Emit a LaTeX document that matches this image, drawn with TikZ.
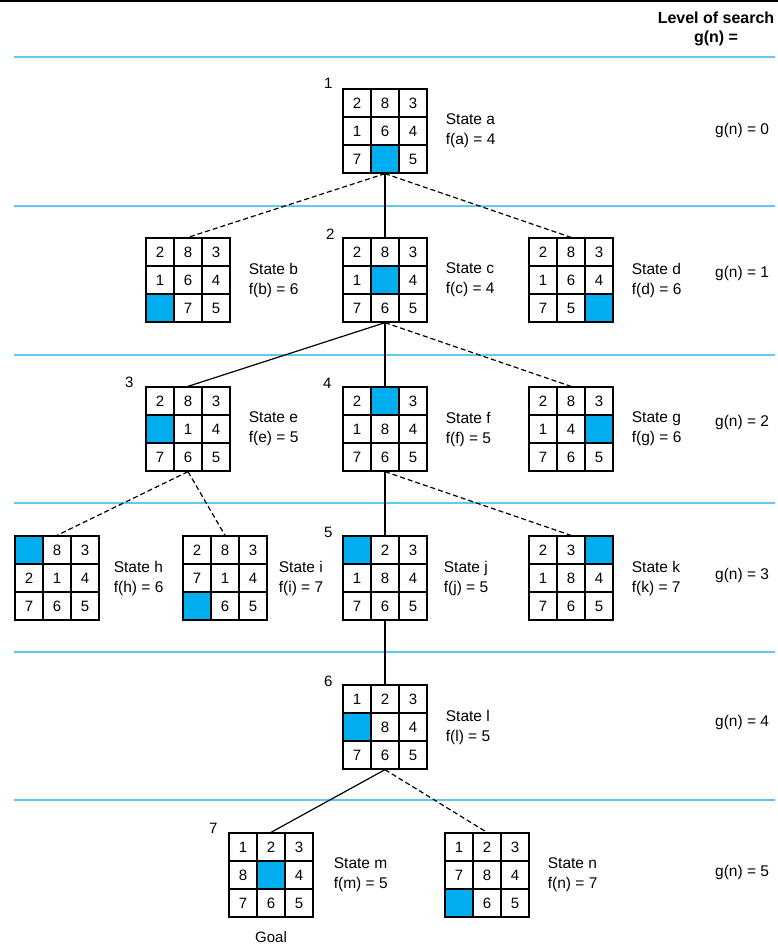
\documentclass[tikz,border=0pt]{standalone}
\usepackage{fontspec}
\setmainfont{Liberation Sans}
\usetikzlibrary{positioning}
\definecolor{tileblue}{RGB}{0,174,239}
\definecolor{levelblue}{RGB}{96,200,242}

% one board of the 8-puzzle: [gap to text]{state}{centre}{tiles, 0 = blank}{f value}
\newcommand{\board}[5][18pt]{%
  \node[frame] (#2) at (#3) {};
  \foreach \v [count=\k from 0] in {#4} {
    \pgfmathtruncatemacro{\col}{mod(\k,3)}
    \pgfmathtruncatemacro{\row}{div(\k,3)}
    \ifnum\v=0
      \node[cell, fill=tileblue] at ([shift={(\col*28-28,\row*28-28)}]#2) {};
    \else
      \node[cell] at ([shift={(\col*28-28,\row*28-28)}]#2) {\v};
    \fi
  }
  \node[statetext, right=#1 of #2] {State #2\\f(#2) = #5};
}

\begin{document}
\begin{tikzpicture}[
    x=1pt, y=-1pt,
    frame/.style={draw, line width=1.3pt, minimum size=84pt, inner sep=0pt},
    cell/.style={draw, line width=1.3pt, minimum size=28pt, inner sep=0pt,
                 font=\fontsize{15}{16}\selectfont},
    statetext/.style={align=left, inner sep=0pt, font=\fontsize{15.5}{20}\selectfont},
    order/.style={inner sep=0pt, font=\fontsize{15}{16}\selectfont},
    gtext/.style={anchor=west, inner sep=0pt, font=\fontsize{15.5}{16}\selectfont},
    head/.style={inner sep=0pt, font=\bfseries\fontsize{16}{17}\selectfont},
    tree/.style={line width=1.2pt},
    treedash/.style={line width=1.2pt, dash pattern=on 5pt off 3pt},
    levelline/.style={levelblue, line width=1.8pt}
  ]
    \useasboundingbox (0,0) rectangle (778,947);
    \draw[line width=2pt] (0,1) -- (778,1);

    % search levels
    \foreach \ly in {57,206,355,503,652,800}
      \draw[levelline] (14,\ly) -- (775,\ly);
    \node[head] at (716,18) {Level of search};
    \node[head] at (716,38) {g(n) =};
    \foreach \gy [count=\g from 0] in {130,273,422,575,722,872}
      \node[gtext] at (715,\gy) {g(n) = \g};

    % boards
    \board{a}{385,131}{2,8,3,1,6,4,7,0,5}{4}
    \board{b}{188,280}{2,8,3,1,6,4,0,7,5}{6}
    \board{c}{385,280}{2,8,3,1,0,4,7,6,5}{4}
    \board{d}{571,280}{2,8,3,1,6,4,7,5,0}{6}
    \board{e}{188,429}{2,8,3,0,1,4,7,6,5}{5}
    \board{f}{385,429}{2,0,3,1,8,4,7,6,5}{5}
    \board{g}{571,429}{2,8,3,1,4,0,7,6,5}{6}
    \board[14pt]{h}{57,578}{0,8,3,2,1,4,7,6,5}{6}
    \board[11pt]{i}{225,578}{2,8,3,7,1,4,0,6,5}{7}
    \board[16pt]{j}{385,578}{0,2,3,1,8,4,7,6,5}{5}
    \board{k}{571,578}{2,3,0,1,8,4,7,6,5}{7}
    \board{l}{385,727}{1,2,3,0,8,4,7,6,5}{5}
    \board[20pt]{m}{271,875}{1,2,3,8,0,4,7,6,5}{5}
    \board{n}{487,875}{1,2,3,7,8,4,0,6,5}{7}

    % order of expansion
    \node[order] at ([shift={(-14,-5)}]a.north west) {1};
    \node[order] at ([shift={(-12,-3)}]c.north west) {2};
    \node[order] at ([shift={(-16,-4)}]e.north west) {3};
    \node[order] at ([shift={(-15,-3)}]f.north west) {4};
    \node[order] at ([shift={(-14,-3)}]j.north west) {5};
    \node[order] at ([shift={(-14,-3)}]l.north west) {6};
    \node[order] at ([shift={(-15,-4)}]m.north west) {7};
    \node[order, below=14pt of m] {Goal};

    % tree
    \draw[treedash] (a.south) -- (b.north);
    \draw[tree] (a.south) -- (c.north);
    \draw[treedash] (a.south) -- (d.north);
    \draw[tree] (c.south) -- (e.north);
    \draw[tree] (c.south) -- (f.north);
    \draw[treedash] (c.south) -- (g.north);
    \draw[treedash] (e.south) -- (h.north);
    \draw[treedash] (e.south) -- (i.north);
    \draw[tree] (f.south) -- (j.north);
    \draw[treedash] (f.south) -- (k.north);
    \draw[tree] (j.south) -- (l.north);
    \draw[tree] (l.south) -- (m.north);
    \draw[treedash] (l.south) -- (n.north);
  \end{tikzpicture}
\end{document}
